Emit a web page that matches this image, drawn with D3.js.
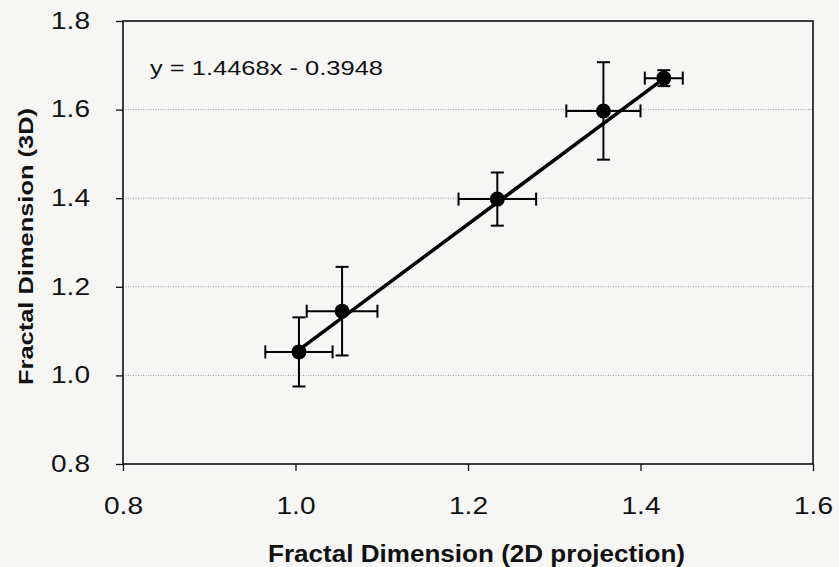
<!DOCTYPE html>
<html>
<head>
<meta charset="utf-8">
<script src="https://cdn.jsdelivr.net/npm/d3@7"></script>
<style>
  body { margin: 0; background: #f6f6f5; }
  svg { display: block; font-family: Arial, "Liberation Sans", sans-serif; }
  .grid line { stroke: #9a9a9a; stroke-dasharray: 1 1.5; stroke-width: 1; }
</style>
</head>
<body>
<svg id="chart" width="839" height="567"></svg>
<script>
"use strict";

// values
var fd_2d = [1.004, 1.054, 1.234, 1.357, 1.427];      // x
var fd_3d = [1.053, 1.145, 1.398, 1.597, 1.671];      // y
var err_2d = [0.039, 0.041, 0.045, 0.043, 0.022];     // +/- on x
var err_3d = [0.078, 0.100, 0.060, 0.110, 0.018];     // +/- on y
var x_ticks = [0.8, 1.0, 1.2, 1.4, 1.6];
var y_ticks = [0.8, 1.0, 1.2, 1.4, 1.6, 1.8];
var slope = 1.4468, intercept = -0.3948;
var eq_label = "y = 1.4468x - 0.3948";
var x_title = "Fractal Dimension (2D projection)";
var y_title = "Fractal Dimension (3D)";

var d3 = window.d3;
var svg = d3.select('#chart');
const margins = {top: 21, left: 123, right: 26, bottom: 103};
const w = 839 - margins.left - margins.right;
const h = 567 - margins.top - margins.bottom;

var data = fd_2d.map((x, i) => ({x: x, y: fd_3d[i], ex: err_2d[i], ey: err_3d[i]}));

var sx = d3.scaleLinear().domain([0.8, 1.6]).range([0, w]);
var sy = d3.scaleLinear().domain([0.8, 1.8]).range([h, 0]);

var g = svg.append('g')
  .attr('transform', 'translate(' + margins.left + ',' + margins.top + ')');

// dotted horizontal gridlines
g.append('g').classed('grid', true)
  .selectAll('line')
  .data(y_ticks.slice(1, -1)).enter()
  .append('line')
    .attr('x1', 0).attr('x2', w)
    .attr('y1', d => sy(d)).attr('y2', d => sy(d));

// axes (the scan is stretched sideways, so text gets a fixed length)
var axis_y = g.append('g')
  .call(d3.axisLeft(sy).tickValues(y_ticks).tickFormat(d3.format('.1f'))
    .tickSize(7).tickPadding(26));
var axis_x = g.append('g')
  .attr('transform', 'translate(0,' + h + ')')
  .call(d3.axisBottom(sx).tickValues(x_ticks).tickFormat(d3.format('.1f'))
    .tickSize(7).tickPadding(27));
[axis_y, axis_x].forEach(a => {
  a.select('.domain').remove();
  a.selectAll('line').attr('stroke', '#111').attr('stroke-width', 1.3);
  a.selectAll('text').attr('font-size', 23).attr('fill', '#111')
    .attr('font-family', 'Arial, "Liberation Sans", sans-serif')
    .attr('textLength', 39).attr('lengthAdjust', 'spacingAndGlyphs');
});

// plot frame
g.append('rect')
  .attr('x', 0).attr('y', 0).attr('width', w).attr('height', h)
  .attr('fill', 'none').attr('stroke', '#111').attr('stroke-width', 1.6);

// trendline over the range of the data
var xr = d3.extent(fd_2d);
g.append('line')
  .attr('x1', sx(xr[0])).attr('y1', sy(slope * xr[0] + intercept))
  .attr('x2', sx(xr[1])).attr('y2', sy(slope * xr[1] + intercept))
  .attr('stroke', '#000').attr('stroke-width', 3.5);

// error bars
var cap = 6.5;
var eb = g.append('g').attr('stroke', '#000').attr('stroke-width', 2);
var pts = eb.selectAll('g').data(data).enter().append('g');
pts.append('line')
  .attr('x1', d => sx(d.x - d.ex)).attr('x2', d => sx(d.x + d.ex))
  .attr('y1', d => sy(d.y)).attr('y2', d => sy(d.y));
pts.append('line')
  .attr('x1', d => sx(d.x)).attr('x2', d => sx(d.x))
  .attr('y1', d => sy(d.y - d.ey)).attr('y2', d => sy(d.y + d.ey));
[-1, 1].forEach(s => {
  pts.append('line')
    .attr('x1', d => sx(d.x + s * d.ex)).attr('x2', d => sx(d.x + s * d.ex))
    .attr('y1', d => sy(d.y) - cap).attr('y2', d => sy(d.y) + cap);
  pts.append('line')
    .attr('x1', d => sx(d.x) - cap).attr('x2', d => sx(d.x) + cap)
    .attr('y1', d => sy(d.y + s * d.ey)).attr('y2', d => sy(d.y + s * d.ey));
});

// markers
g.append('g').selectAll('circle')
  .data(data).enter()
  .append('circle')
    .attr('cx', d => sx(d.x)).attr('cy', d => sy(d.y))
    .attr('r', 7.5).attr('fill', '#000');

// equation
g.append('text')
  .attr('x', 27).attr('y', 54)
  .attr('font-size', 21).attr('fill', '#111')
  .attr('textLength', 233).attr('lengthAdjust', 'spacingAndGlyphs')
  .text(eq_label);

// axis titles
svg.append('text')
  .attr('x', 268).attr('y', 562)
  .attr('font-size', 23).attr('font-weight', 'bold').attr('fill', '#111')
  .attr('textLength', 417).attr('lengthAdjust', 'spacingAndGlyphs')
  .text(x_title);
svg.append('text')
  .attr('transform', 'translate(33,385) rotate(-90)')
  .attr('font-size', 21).attr('font-weight', 'bold').attr('fill', '#111')
  .attr('textLength', 277).attr('lengthAdjust', 'spacingAndGlyphs')
  .text(y_title);
</script>
</body>
</html>
